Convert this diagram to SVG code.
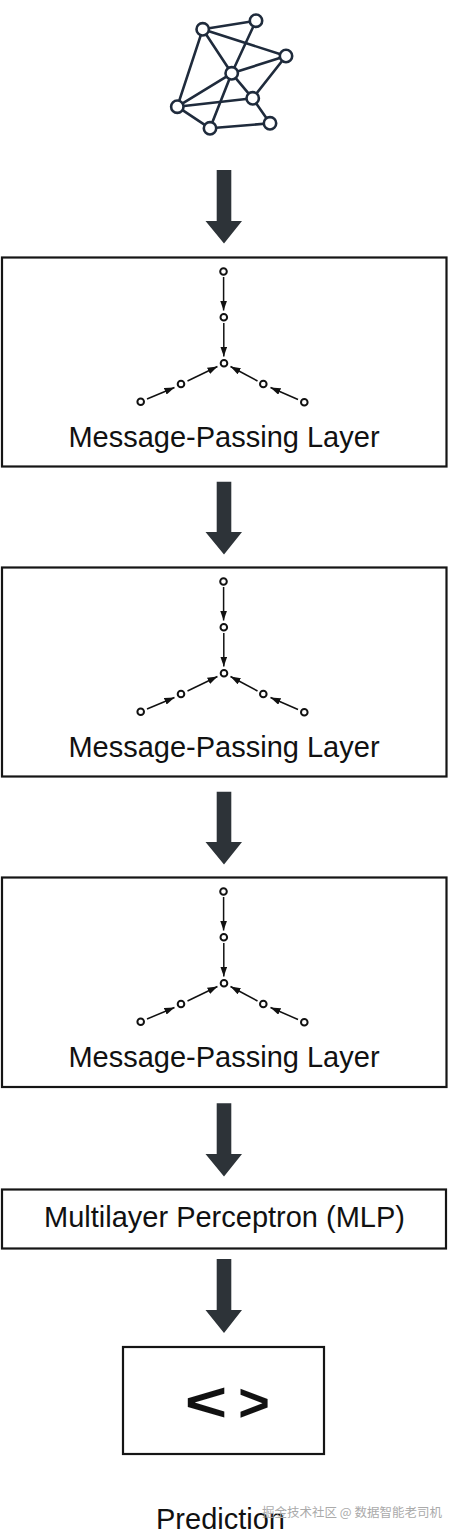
<svg xmlns="http://www.w3.org/2000/svg" xmlns:xlink="http://www.w3.org/1999/xlink" width="450" height="1533" viewBox="0 0 450 1533">
<style>
.box{fill:#fff;stroke:#151515;stroke-width:2.2}
.lbl{font-family:"Liberation Sans",Arial,sans-serif;font-size:29px;fill:#111;text-anchor:middle}
.gedge{stroke:#1f2b3c;stroke-width:2.6;fill:none;stroke-linecap:round}
.gnode{fill:#fff;stroke:#1f2b3c;stroke-width:2.6}
.bigarrow{fill:#2d3338}
.mpn{fill:#fff;stroke:#111;stroke-width:2}
.mpe{stroke:#111;stroke-width:1.5;fill:none}
.sym{font-family:"Liberation Sans",Arial,sans-serif;font-weight:bold;text-anchor:middle;fill:#111}
.wm{font-family:"Noto Sans CJK SC","Liberation Sans",sans-serif;font-size:12.5px;fill:#aaa}
</style>
<defs>
<marker id="ah" markerUnits="userSpaceOnUse" markerWidth="10" markerHeight="7" refX="10" refY="3.5" orient="auto">
<path d="M0,0 L10,3.5 L0,7 z" fill="#111"/>
</marker>
<g id="mpicon">
<line class="mpe" x1="223.6" y1="277" x2="223.6" y2="310.5" marker-end="url(#ah)"/>
<line class="mpe" x1="223.8" y1="323" x2="223.8" y2="356.5" marker-end="url(#ah)"/>
<line class="mpe" x1="147" y1="399" x2="174.5" y2="387.5" marker-end="url(#ah)"/>
<line class="mpe" x1="187.5" y1="381" x2="217.5" y2="366.5" marker-end="url(#ah)"/>
<line class="mpe" x1="298" y1="399.5" x2="270.5" y2="387.5" marker-end="url(#ah)"/>
<line class="mpe" x1="257.5" y1="381" x2="230.5" y2="366.5" marker-end="url(#ah)"/>
<circle class="mpn" cx="223.5" cy="271.5" r="3.3"/>
<circle class="mpn" cx="223.8" cy="317.3" r="3.3"/>
<circle class="mpn" cx="224" cy="363.3" r="3.3"/>
<circle class="mpn" cx="181" cy="384" r="3.3"/>
<circle class="mpn" cx="140.7" cy="401.7" r="3.3"/>
<circle class="mpn" cx="263.3" cy="384" r="3.3"/>
<circle class="mpn" cx="304.3" cy="402.3" r="3.3"/>
</g>
</defs>
<rect width="450" height="1533" fill="#fff"/>

<g id="input-graph">
<line class="gedge" x1="202.7" y1="29.3" x2="256" y2="20.7"/>
<line class="gedge" x1="202.7" y1="29.3" x2="286" y2="56"/>
<line class="gedge" x1="202.7" y1="29.3" x2="231.7" y2="73.3"/>
<line class="gedge" x1="202.7" y1="29.3" x2="177.3" y2="106.7"/>
<line class="gedge" x1="256" y1="20.7" x2="231.7" y2="73.3"/>
<line class="gedge" x1="231.7" y1="73.3" x2="210" y2="128.3"/>
<line class="gedge" x1="286" y1="56" x2="231.7" y2="73.3"/>
<line class="gedge" x1="286" y1="56" x2="252.7" y2="98.3"/>
<line class="gedge" x1="231.7" y1="73.3" x2="252.7" y2="98.3"/>
<line class="gedge" x1="231.7" y1="73.3" x2="177.3" y2="106.7"/>
<line class="gedge" x1="177.3" y1="106.7" x2="252.7" y2="98.3"/>
<line class="gedge" x1="177.3" y1="106.7" x2="210" y2="128.3"/>
<line class="gedge" x1="210" y1="128.3" x2="270" y2="123.3"/>
<line class="gedge" x1="252.7" y1="98.3" x2="270" y2="123.3"/>
<circle class="gnode" cx="202.7" cy="29.3" r="6.2"/>
<circle class="gnode" cx="256" cy="20.7" r="6.2"/>
<circle class="gnode" cx="286" cy="56" r="6.2"/>
<circle class="gnode" cx="231.7" cy="73.3" r="6.2"/>
<circle class="gnode" cx="252.7" cy="98.3" r="6.2"/>
<circle class="gnode" cx="177.3" cy="106.7" r="6.2"/>
<circle class="gnode" cx="210" cy="128.3" r="6.2"/>
<circle class="gnode" cx="270" cy="123.3" r="6.2"/>
</g>

<g id="mp-layer-1">
<rect class="box" x="2" y="257.5" width="444.5" height="209"/>
<use xlink:href="#mpicon"/>
<text class="lbl" x="224" y="446.5">Message-Passing Layer</text>
</g>
<g id="mp-layer-2">
<rect class="box" x="2" y="567.5" width="444.5" height="209"/>
<use xlink:href="#mpicon" transform="translate(0,310)"/>
<text class="lbl" x="224" y="756.5">Message-Passing Layer</text>
</g>
<g id="mp-layer-3">
<rect class="box" x="2" y="877.5" width="444.5" height="209.5"/>
<use xlink:href="#mpicon" transform="translate(0,620)"/>
<text class="lbl" x="224" y="1066.5">Message-Passing Layer</text>
</g>
<g id="mlp">
<rect class="box" x="2" y="1189.5" width="444" height="59"/>
<text class="lbl" x="224.5" y="1227">Multilayer Perceptron (MLP)</text>
</g>
<g id="prediction">
<rect class="box" x="123" y="1347" width="201" height="107"/>
<text class="sym" font-size="56" transform="translate(206,1421) scale(1.3,1)">&lt;</text>
<text class="sym" font-size="54" x="254" y="1421">&gt;</text>
<text class="lbl" x="220.5" y="1529">Prediction</text>
</g>

<g id="connectors">
<polygon class="bigarrow" points="216.7,170 231.3,170 231.3,221 242,221 224,243.5 205.5,221 216.7,221"/>
<polygon class="bigarrow" points="216.7,481.7 231.3,481.7 231.3,532 242,532 224,554.5 205.5,532 216.7,532"/>
<polygon class="bigarrow" points="216.7,791.7 231.3,791.7 231.3,842 242,842 224,864.5 205.5,842 216.7,842"/>
<polygon class="bigarrow" points="216.7,1103.3 231.3,1103.3 231.3,1154 242,1154 224,1176.5 205.5,1154 216.7,1154"/>
<polygon class="bigarrow" points="216.7,1259 231.3,1259 231.3,1310 242,1310 224,1333 205.5,1310 216.7,1310"/>
</g>

<text class="wm" x="262" y="1516.5">掘金技术社区 @ 数据智能老司机</text>
</svg>
